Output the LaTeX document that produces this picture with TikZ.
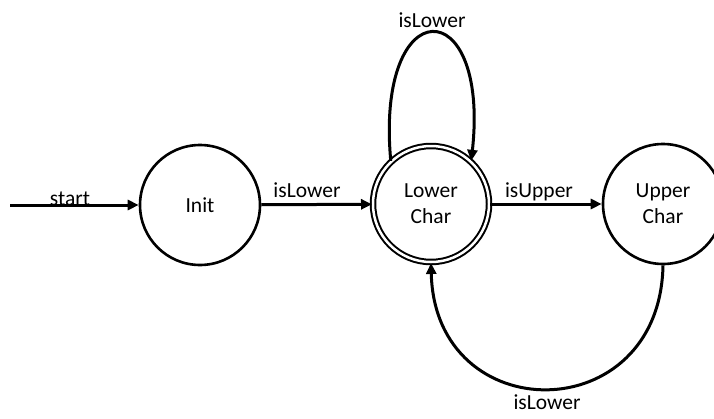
\documentclass[tikz,border=0pt]{standalone}
\usepackage{fontspec}
\setmainfont{Carlito}
\usetikzlibrary{arrows.meta}
\begin{document}
\begin{tikzpicture}[x=1pt,y=-1pt,
  state/.style={draw,circle,line width=2.6pt,minimum size=120pt,inner sep=0pt,align=center,font=\fontsize{21.5}{26}\selectfont},
  accept/.style={state,double,double distance=2.5pt,line width=2pt,minimum size=116pt},
  edge/.style={line width=3pt,-{Triangle[length=11pt,width=10pt]}},
  lbl/.style={font=\fontsize{21.5}{26}\selectfont,inner sep=0pt,anchor=base}]
\useasboundingbox (0,0) rectangle (714,418);
\node[state] (init) at (200,205) {Init};
\node[accept] (lower) at (431,204) {Lower\\Char};
\node[state] (upper) at (663,204) {Upper\\Char};
\coordinate (s) at (10,205);
\draw[edge] (s) -- (init);
\draw[edge] (init) -- (lower);
\draw[edge] (lower) -- (upper);
\draw[edge] (lower.133) .. controls (375,-10) and (490,-10) .. (lower.47);
\draw[edge] (upper.270) .. controls (660,430) and (435,430) .. (lower.270);
\node[lbl] (l0) at (70,205) {start};
\node[lbl] (l1) at (307,197) {isLower};
\node[lbl] (l2) at (539,197) {isUpper};
\node[lbl] (l3) at (432,27) {isLower};
\node[lbl] (l4) at (547,409) {isLower};
\end{tikzpicture}
\end{document}
